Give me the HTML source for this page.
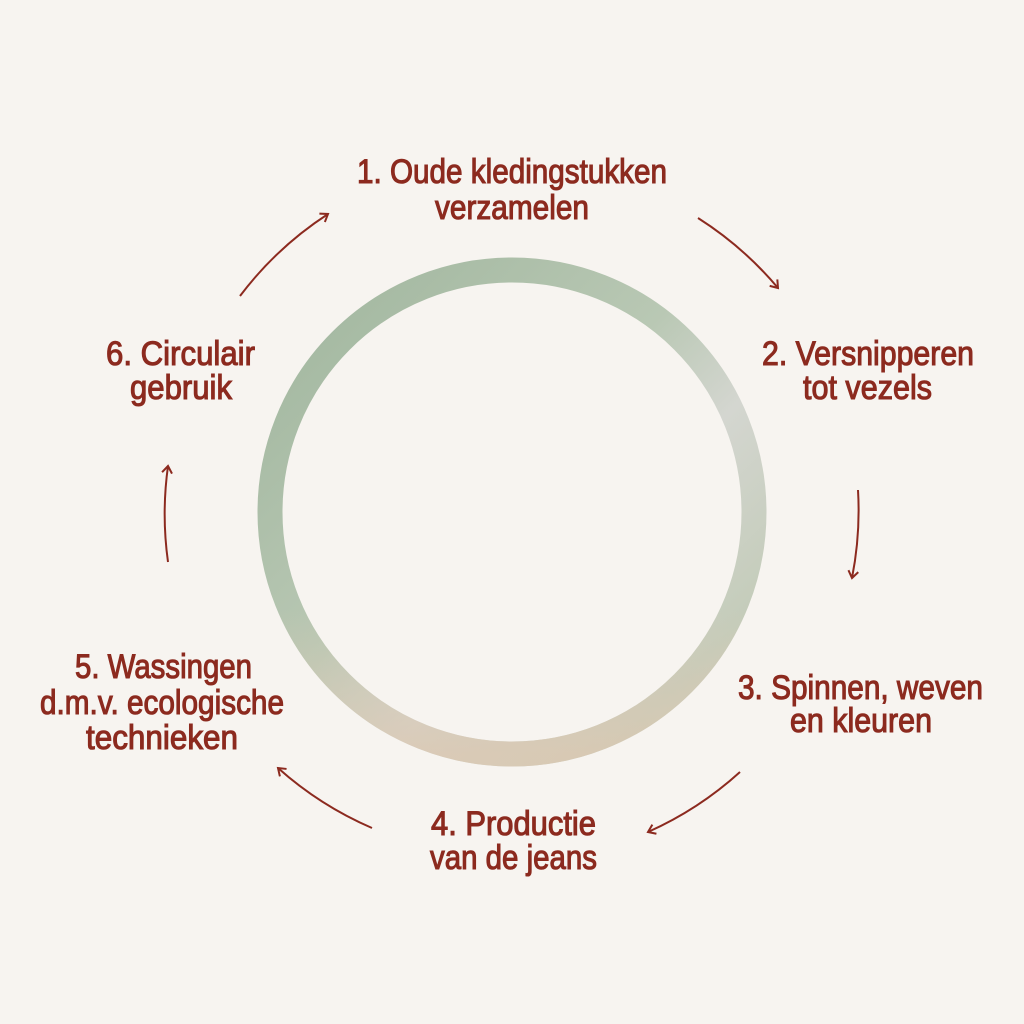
<!DOCTYPE html>
<html><head><meta charset="utf-8"><style>
html,body{margin:0;padding:0;background:#f7f4f0;}
svg{display:block}
text{font-family:"Liberation Sans",sans-serif;font-size:34px;fill:#8c2a1f;stroke:#8c2a1f;stroke-width:1.1px;}
</style></head><body>
<svg width="1024" height="1024" viewBox="0 0 1024 1024" xmlns="http://www.w3.org/2000/svg">
<defs>
<linearGradient id="g" x1="0" y1="0" x2="1" y2="1">
<stop offset="0" stop-color="#9fb59d"/>
<stop offset="0.45" stop-color="#b9c8b4"/>
<stop offset="0.62" stop-color="#d4d6d0"/>
<stop offset="0.85" stop-color="#c4ccba"/>
<stop offset="1" stop-color="#d9c8b3"/>
</linearGradient>
<linearGradient id="g2" x1="0" y1="0" x2="0" y2="1">
<stop offset="0.7" stop-color="#d9c8b3" stop-opacity="0"/>
<stop offset="1" stop-color="#dcc8b2" stop-opacity="0.8"/>
</linearGradient>
<marker id="a" markerWidth="12" markerHeight="12" refX="9" refY="6" orient="auto" markerUnits="userSpaceOnUse">
<path d="M2,1 L9,6 L2,11" fill="none" stroke="#8c2a1f" stroke-width="2"/>
</marker>
</defs>
<rect width="1024" height="1024" fill="#f7f4f0"/>
<circle cx="512" cy="512" r="242" fill="none" stroke="url(#g)" stroke-width="25"/>
<circle cx="512" cy="512" r="242" fill="none" stroke="url(#g2)" stroke-width="25"/>
<g fill="none" stroke="#8c2a1f" stroke-width="2" marker-end="url(#a)">
<path d="M240,296 A348,348 0 0 1 328,214"/>
<path d="M698,218 A348,348 0 0 1 778,288"/>
<path d="M858,490 A348,348 0 0 1 852,578"/>
<path d="M740,772 A348,348 0 0 1 648,832"/>
<path d="M372,828 A348,348 0 0 1 278,768"/>
<path d="M168,562 A348,348 0 0 1 168,466"/>
</g>
<text x="357" y="183" textLength="310" lengthAdjust="spacingAndGlyphs">1. Oude kledingstukken</text>
<text x="435" y="219" textLength="154" lengthAdjust="spacingAndGlyphs">verzamelen</text>
<text x="762" y="365" textLength="212" lengthAdjust="spacingAndGlyphs">2. Versnipperen</text>
<text x="803" y="399" textLength="129" lengthAdjust="spacingAndGlyphs">tot vezels</text>
<text x="738" y="699" textLength="245" lengthAdjust="spacingAndGlyphs">3. Spinnen, weven</text>
<text x="790" y="732" textLength="142" lengthAdjust="spacingAndGlyphs">en kleuren</text>
<text x="431" y="835" textLength="165" lengthAdjust="spacingAndGlyphs">4. Productie</text>
<text x="430" y="869" textLength="167" lengthAdjust="spacingAndGlyphs">van de jeans</text>
<text x="75" y="678" textLength="177" lengthAdjust="spacingAndGlyphs">5. Wassingen</text>
<text x="40" y="714" textLength="244" lengthAdjust="spacingAndGlyphs">d.m.v. ecologische</text>
<text x="86" y="749" textLength="152" lengthAdjust="spacingAndGlyphs">technieken</text>
<text x="106" y="365" textLength="149" lengthAdjust="spacingAndGlyphs">6. Circulair</text>
<text x="130" y="399" textLength="102" lengthAdjust="spacingAndGlyphs">gebruik</text>
</svg>
</body></html>
